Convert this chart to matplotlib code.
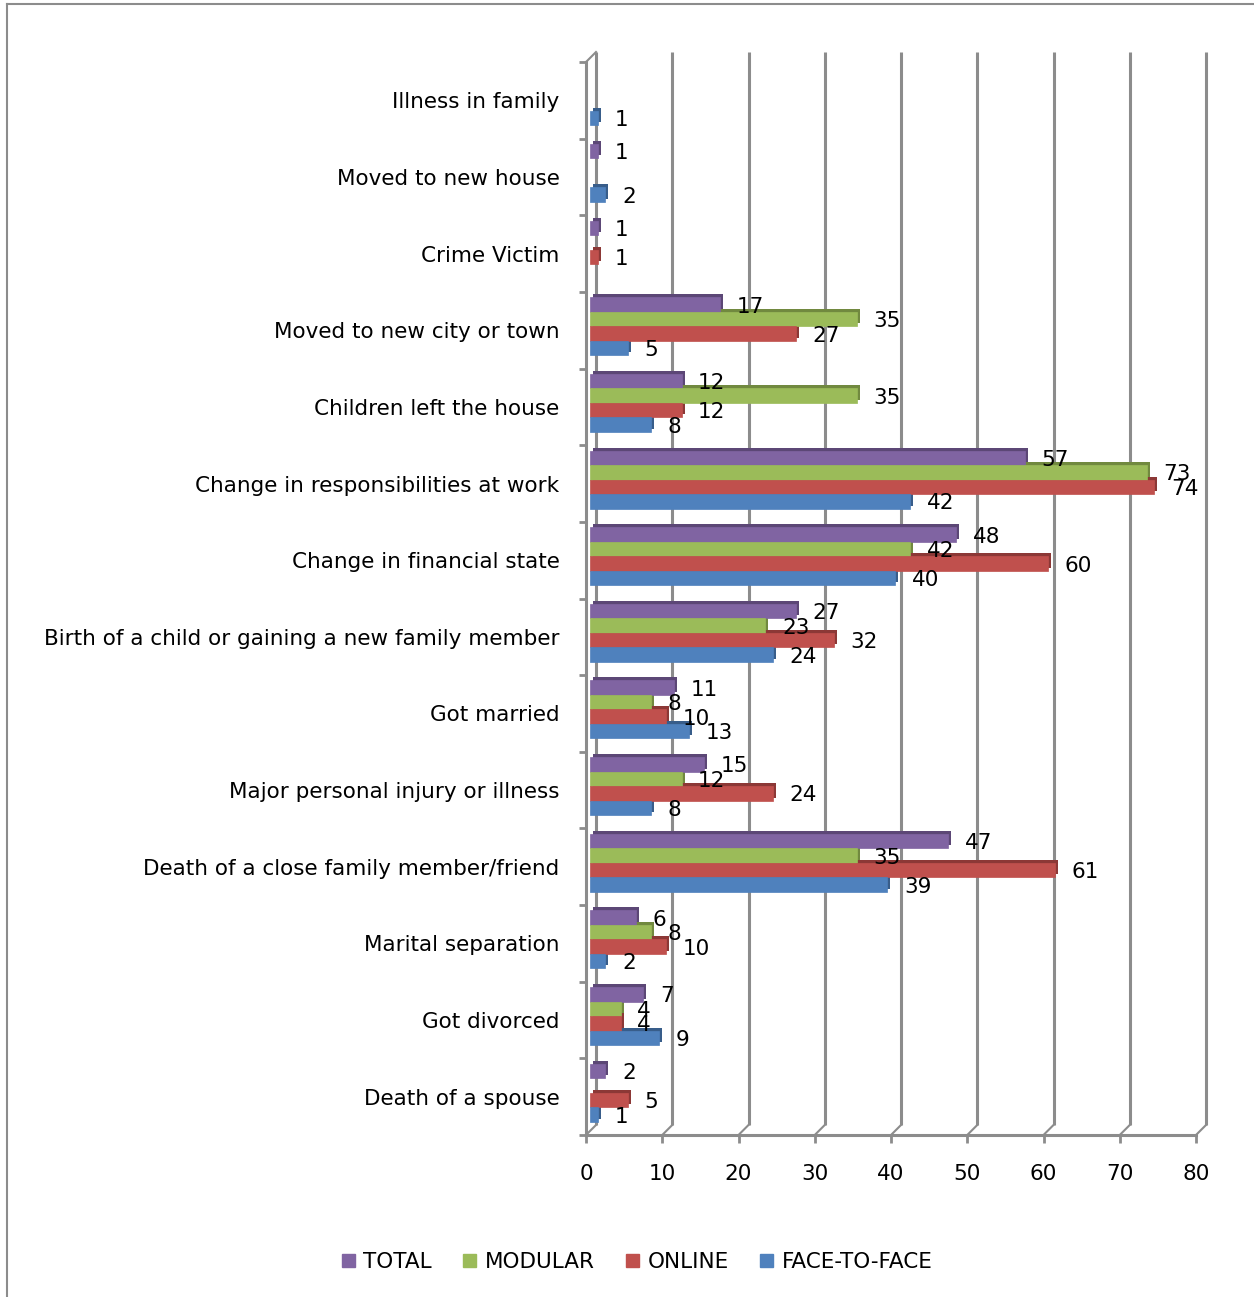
import matplotlib
matplotlib.use("Agg")
import matplotlib.pyplot as plt
import matplotlib.transforms as mtransforms
from matplotlib.patches import Patch
from matplotlib.lines import Line2D
import numpy as np

categories = [
    "Death of a spouse",
    "Got divorced",
    "Marital separation",
    "Death of a close family member/friend",
    "Major personal injury or illness",
    "Got married",
    "Birth of a child or gaining a new family member",
    "Change in financial state",
    "Change in responsibilities at work",
    "Children left the house",
    "Moved to new city or town",
    "Crime Victim",
    "Moved to new house",
    "Illness in family",
]
total = [2, 7, 6, 47, 15, 11, 27, 48, 57, 12, 17, 1, 1, None]
modular = [None, 4, 8, 35, 12, 8, 23, 42, 73, 35, 35, None, None, None]
online = [5, 4, 10, 61, 24, 10, 32, 60, 74, 12, 27, 1, None, None]
face_to_face = [1, 9, 2, 39, 8, 13, 24, 40, 42, 8, 5, None, 2, 1]
series_names = ["TOTAL", "MODULAR", "ONLINE", "FACE-TO-FACE"]
x_ticks = [0, 10, 20, 30, 40, 50, 60, 70, 80]

colors = ["#8064A2", "#9BBB59", "#C0504D", "#4F81BD"]
dark = ["#5C4776", "#71893F", "#8C3836", "#385D8A"]
grid_c = "#8C8C8C"

W, H = 1254, 1297
fig = plt.figure(figsize=(W / 100, H / 100), dpi=100)
ax_l, ax_r, ax_t, ax_b = 586, 1196, 62, 1135
ax = fig.add_axes([ax_l / W, 1 - ax_b / H, (ax_r - ax_l) / W, (ax_b - ax_t) / H])

n = len(categories)
ax.set_xlim(0, 80)
ax.set_ylim(-0.5, n - 0.5)

px_x = (ax_r - ax_l) / 80.0
px_y = (ax_b - ax_t) / n
depth = 10
dx, dy = depth / px_x, depth / px_y

# back wall grid lines + floor diagonals
for v in x_ticks:
    ax.plot([v + dx, v + dx], [-0.5 + dy, n - 0.5 + dy], color=grid_c, lw=2.2,
            clip_on=False, zorder=0.5, solid_capstyle="butt")
    ax.plot([v, v + dx], [-0.5, -0.5 + dy], color=grid_c, lw=1.5, clip_on=False, zorder=0.5)
ax.plot([0, dx], [n - 0.5, n - 0.5 + dy], color=grid_c, lw=1.5, clip_on=False, zorder=0.5)

# bars
h = 14.5 / px_y
shift = mtransforms.ScaledTranslation(4 / 100, 4 / 100, fig.dpi_scale_trans)
bar_t = ax.transData + shift
side = mtransforms.ScaledTranslation(3 / 100, 3 / 100, fig.dpi_scale_trans)
side_t = bar_t + side
all_series = [total, modular, online, face_to_face]
y = np.arange(n)
for k, (vals, c, dc) in enumerate(zip(all_series, colors, dark)):
    ypos = y + (1.5 - k) * h
    v = np.array([np.nan if a is None else a for a in vals], dtype=float)
    vb = np.nan_to_num(v)
    mask = ~np.isnan(v)
    ax.barh(ypos[mask], vb[mask], height=h, color=dc, transform=side_t, zorder=2,
            clip_on=False)
    ax.barh(ypos[mask], vb[mask], height=h, color=c, transform=bar_t, zorder=3,
            clip_on=False, edgecolor=c, linewidth=0.5)
    for yy, vv in zip(ypos[mask], v[mask]):
        ax.annotate(f"{int(vv)}", xy=(vv, yy), xycoords=bar_t,
                    xytext=(12, -1.5), textcoords="offset points",
                    ha="left", va="center", fontsize=15.5, color="black", zorder=5)

# axes styling
for s in ["top", "right"]:
    ax.spines[s].set_visible(False)
for s in ["left", "bottom"]:
    ax.spines[s].set_color(grid_c)
    ax.spines[s].set_linewidth(2.2)
ax.set_facecolor("none")
ax.set_xticks(x_ticks)
ax.set_xticklabels([str(t) for t in x_ticks], fontsize=15.5)
ax.tick_params(axis="x", length=6, width=2, color=grid_c, pad=15)
ax.set_yticks(y)
ax.set_yticklabels(categories, fontsize=15.5)
ax.tick_params(axis="y", which="major", length=0, pad=19)
ax.set_yticks(np.arange(-0.5, n, 1.0), minor=True)
ax.tick_params(axis="y", which="minor", length=5, width=2, color=grid_c)

# legend
handles = [Patch(facecolor=c, edgecolor=c) for c in colors]
fig.legend(handles, series_names, loc="center", bbox_to_anchor=(0.508, 1 - 1262 / H),
           ncol=4, frameon=False, fontsize=15.5, handlelength=0.6, handleheight=0.6,
           handletextpad=0.4, columnspacing=1.45)

# outer border
fig.add_artist(Line2D([7 / W, 7 / W], [0, 1 - 4 / H], color="#8C8C8C", lw=1.5))
fig.add_artist(Line2D([7 / W, 1], [1 - 4 / H, 1 - 4 / H], color="#8C8C8C", lw=1.5))

fig.savefig("out.png", dpi=100)
